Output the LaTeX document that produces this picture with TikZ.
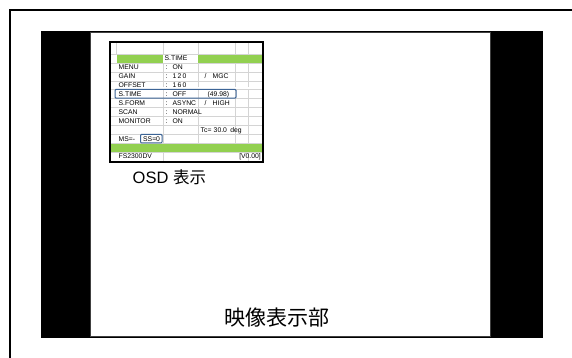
\documentclass[tikz,border=0pt]{standalone}
\usepackage{fontspec}
\setmainfont{Liberation Sans}
\newfontfamily\cjk{Noto Sans CJK JP}
\definecolor{osdgreen}{HTML}{92D050}
\definecolor{gridgray}{HTML}{D4D4D4}
\definecolor{hlblue}{HTML}{3C6496}
\tikzset{
  osdtxt/.style={inner sep=0pt, anchor=base west, font=\fontsize{6.8}{7}\selectfont},
  osdtxtr/.style={inner sep=0pt, anchor=base east, font=\fontsize{6.8}{7}\selectfont},
  hlbox/.style={draw=hlblue, line width=1pt, rounded corners=1pt},
  gridline/.style={draw=gridgray, line width=0.5pt},
}
\begin{document}
\begin{tikzpicture}[x=1pt,y=-1pt]
\useasboundingbox (0,0) rectangle (572,358);
% outer frame (only top and left visible)
\draw[line width=1.6pt] (10,358) -- (10,10) -- (572,10);
% screen with black bands
\fill[black] (41,31) rectangle (543,338);
\filldraw[fill=white, draw=black!75, line width=0.8pt] (90,32.5) rectangle (490,336.5);
% OSD panel
\fill[white] (110,42) rectangle (263,162);
% green rows
\fill[osdgreen] (116.7,54) rectangle (163,62.92);
\fill[osdgreen] (198,54) rectangle (262,62.92);
\fill[osdgreen] (111,143.2) rectangle (262,152.12);
% grid lines
\foreach \yy in {54,62.92,71.84,80.76,89.68,98.60,107.52,116.44,125.36,134.28,143.20,152.12}
  \draw[gridline] (111,\yy) -- (262,\yy);
\draw[gridline] (116.7,43) -- (116.7,54);
\foreach \xx in {163,198,235,248} {
  \draw[gridline] (\xx,43) -- (\xx,54);
  \draw[gridline] (\xx,62.92) -- (\xx,143.2);
}
\draw[gridline] (163,152.12) -- (163,161);
\draw[gridline] (248,152.12) -- (248,161);
% texts
\node[osdtxt] (hdr) at (164.5,60.9) {S.TIME};
\node[osdtxt] (l2) at (118.5,69.8) {MENU};
\node[osdtxt] (c2) at (165.5,69.8) {:};
\node[osdtxt] (v2) at (172.5,69.8) {ON};
\node[osdtxt] (l3) at (118.5,78.7) {GAIN};
\node[osdtxt] (c3) at (165.5,78.7) {:};
\node[osdtxt] (v3) at (172.5,78.7) {1\,2\,0};
\node[osdtxt] (s3) at (204.5,78.7) {/};
\node[osdtxt] (w3) at (212.5,78.7) {MGC};
\node[osdtxt] (l4) at (118.5,87.7) {OFFSET};
\node[osdtxt] (c4) at (165.5,87.7) {:};
\node[osdtxt] (v4) at (172.5,87.7) {1\,6\,0};
\fill[white] (111,87) rectangle (262,89.4);
\draw[gridline] (111,89.68) -- (262,89.68);
\node[osdtxt] (l5) at (118.5,96.5) {S.TIME};
\node[osdtxt] (c5) at (165.5,96.5) {:};
\node[osdtxt] (v5) at (172.5,96.5) {OFF};
\node[osdtxt] (w5) at (207.5,96.5) {(49.98)};
\node[osdtxt] (l6) at (118.5,105.5) {S.FORM};
\node[osdtxt] (c6) at (165.5,105.5) {:};
\node[osdtxt] (v6) at (172.5,105.5) {ASYNC};
\node[osdtxt] (s6) at (204.5,105.5) {/};
\node[osdtxt] (w6) at (212.5,105.5) {HIGH};
\node[osdtxt] (l7) at (118.5,114.4) {SCAN};
\node[osdtxt] (c7) at (165.5,114.4) {:};
\node[osdtxt] (v7) at (172.5,114.4) {NORMAL};
\node[osdtxt] (l8) at (118.5,123.3) {MONITOR};
\node[osdtxt] (c8) at (165.5,123.3) {:};
\node[osdtxt] (v8) at (172.5,123.3) {ON};
\node[osdtxt] (tc) at (200.5,132.2) {Tc=\,\,30.0\,\,\,deg};
\node[osdtxt] (ms) at (118.5,141.1) {MS=-};
\node[osdtxt] (ss) at (143,141.1) {SS=0};
\node[osdtxt] (fs) at (118.5,159.0) {FS2300DV};
\node[osdtxtr] (ver) at (261,159.0) {[V0.00]};
% highlight boxes
\draw[hlbox] (115,89.3) rectangle (236,98.2);
\draw[hlbox] (140.5,134.3) rectangle (162,143);
% OSD border
\draw[line width=1.8pt] (110,42) rectangle (263,162);
% labels
\node[inner sep=0pt, anchor=base west, font=\fontsize{16.5}{18}\selectfont] (osdlbl) at (132.5,183.3) {OSD {\cjk 表示}};
\node[inner sep=0pt, font=\fontsize{21}{24}\cjk] (scr) at (276.5,318) {映像表示部};
\end{tikzpicture}
\end{document}
